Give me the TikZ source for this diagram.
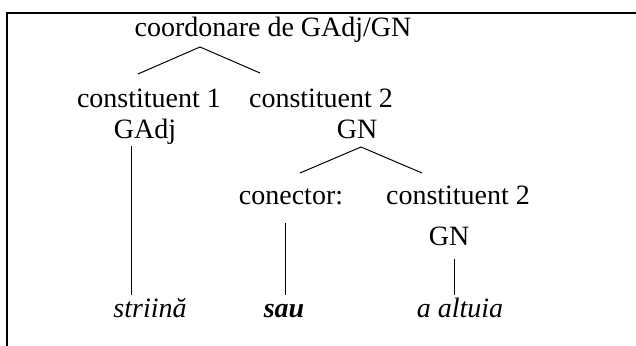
\documentclass[tikz,border=0pt]{standalone}
\usepackage{fontspec}
\setmainfont{Liberation Serif}

\tikzset{
  lbl/.style={anchor=base, inner sep=0pt, font=\fontsize{14}{17}\selectfont},
  word/.style={lbl, font=\fontsize{14}{17}\selectfont\itshape},
  branch/.style={line width=0.5pt},
}

\begin{document}
\begin{tikzpicture}[x=0.5pt, y=-0.5pt]
  \useasboundingbox (0,0) rectangle (636,346);
  \draw[line width=1pt] (7,346) -- (7,13) -- (636,13);

  \node[lbl] (root) at (273,37) {coordonare de GAdj/GN};
  \node[lbl] (c1) at (149,108) {constituent 1};
  \node[lbl] (c2) at (321,108) {constituent 2};
  \node[lbl] (gadj) at (145,139) {GAdj};
  \node[lbl] (gn) at (357,139) {GN};
  \node[lbl] (con) at (291,205) {conector:};
  \node[lbl] (c3) at (458,205) {constituent 2};
  \node[lbl] (gn2) at (449,246) {GN};
  \node[word] (w1) at (150,318) {striină};
  \node[word] (w2) at (284,318) {\bfseries sau};
  \node[word] (w3) at (460,318) {a altuia};

  \draw[branch] ([shift={(-11,-34)}]c1.base) -- ([shift={(-73,10)}]root.base)
    -- ([shift={(-61,-35)}]c2.base);
  \draw[branch] ([shift={(9,-32)}]con.base) -- ([shift={(4,8)}]gn.base)
    -- ([shift={(-36,-32)}]c3.base);
  \draw[branch] ([shift={(-14,7)}]gadj.base) -- ([shift={(-19,-23)}]w1.base);
  \draw[branch] ([shift={(-6,18)}]con.base) -- ([shift={(1,-23)}]w2.base);
  \draw[branch] ([shift={(5,13)}]gn2.base) -- ([shift={(-6,-23)}]w3.base);
\end{tikzpicture}
\end{document}
